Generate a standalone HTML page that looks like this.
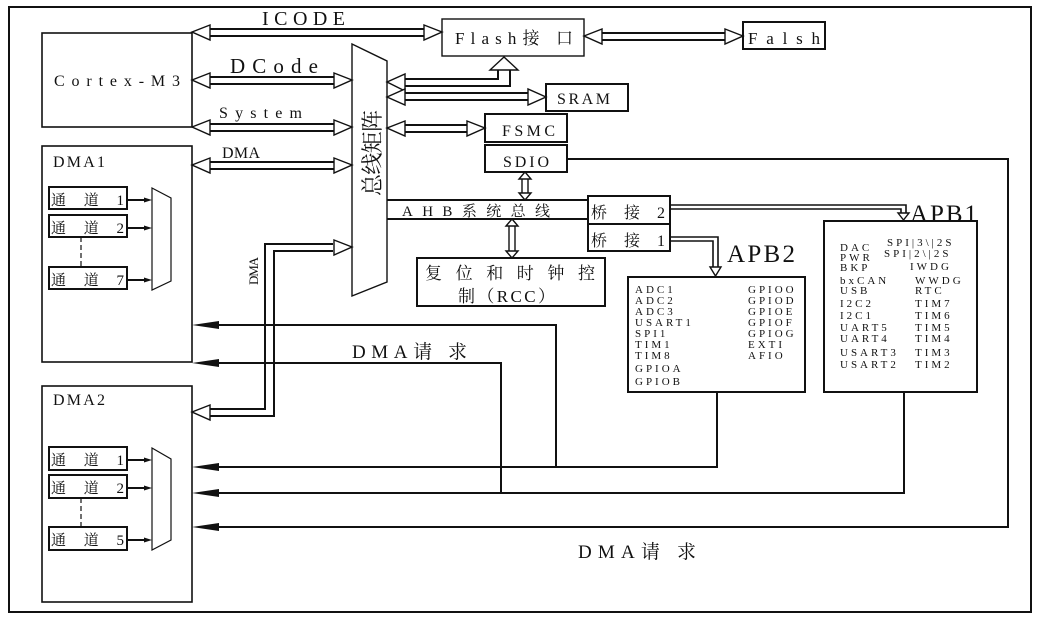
<!DOCTYPE html>
<html><head><meta charset="utf-8"><style>
html,body{margin:0;padding:0;background:#fff;}
svg{display:block;}
text{font-family:"Liberation Serif","Noto Serif CJK SC",serif;fill:#111;}
.s{font-size:11px;}
</style></head><body>
<svg width="1041" height="621" viewBox="0 0 1041 621" xmlns="http://www.w3.org/2000/svg">
<g fill="none" stroke="#111" stroke-width="2">
<!-- outer frame -->
<rect x="9" y="7" width="1022" height="605" stroke-width="2"/>
<!-- Cortex -->
<rect x="42" y="33" width="150" height="94" stroke-width="1.6"/>
<rect x="42" y="146" width="150" height="216" stroke-width="1.6"/>
<rect x="42" y="386" width="150" height="216" stroke-width="1.6"/>
<!-- DMA1 channels -->
<rect x="49" y="187" width="78" height="22"/>
<rect x="49" y="215" width="78" height="22"/>
<rect x="49" y="267" width="78" height="22"/>
<line x1="81" y1="237" x2="81" y2="267" stroke-width="1.2" stroke-dasharray="5,3"/>
<polygon points="152,188 171,198 171,281 152,290" stroke-width="1.2"/>
<line x1="127" y1="200" x2="146" y2="200"/><line x1="127" y1="228" x2="146" y2="228"/><line x1="127" y1="280" x2="146" y2="280"/>
<!-- DMA2 channels -->
<rect x="49" y="447" width="78" height="23"/>
<rect x="49" y="475" width="78" height="23"/>
<rect x="49" y="527" width="78" height="23"/>
<line x1="81" y1="498" x2="81" y2="527" stroke-width="1.2" stroke-dasharray="5,3"/>
<polygon points="152,448 171,459 171,540 152,550" stroke-width="1.2"/>
<line x1="127" y1="460" x2="146" y2="460"/><line x1="127" y1="488" x2="146" y2="488"/><line x1="127" y1="540" x2="146" y2="540"/>
<!-- bus matrix -->
<polygon points="352,44 387,61 387,282 352,296" stroke-width="1.4"/>
<!-- AHB -->
<line x1="387" y1="200" x2="588" y2="200"/>
<line x1="387" y1="219" x2="588" y2="219"/>
<!-- boxes -->
<rect x="442" y="19" width="142" height="37" stroke-width="1.4"/>
<rect x="743" y="22" width="82" height="27"/>
<rect x="546" y="84" width="82" height="27"/>
<rect x="485" y="114" width="82" height="28"/>
<rect x="485" y="145" width="82" height="27"/>
<rect x="588" y="196" width="82" height="28"/>
<rect x="588" y="224" width="82" height="27"/>
<rect x="417" y="258" width="188" height="48"/>
<rect x="628" y="277" width="177" height="115"/>
<rect x="824" y="221" width="153" height="171"/>
<!-- double-line connectors -->
<line x1="209" y1="29" x2="426" y2="29"/><line x1="209" y1="36" x2="426" y2="36"/>
<line x1="601" y1="33" x2="726" y2="33"/><line x1="601" y1="40" x2="726" y2="40"/>
<line x1="209" y1="77" x2="335" y2="77"/><line x1="209" y1="84" x2="335" y2="84"/>
<line x1="209" y1="124" x2="335" y2="124"/><line x1="209" y1="131" x2="335" y2="131"/>
<line x1="209" y1="162" x2="335" y2="162"/><line x1="209" y1="169" x2="335" y2="169"/>
<polyline points="404,79 498,79 498,70"/><polyline points="404,86 510,86 510,70"/>
<line x1="404" y1="93" x2="529" y2="93"/><line x1="404" y1="100" x2="529" y2="100"/>
<line x1="404" y1="125" x2="468" y2="125"/><line x1="404" y1="132" x2="468" y2="132"/>
<!-- DMA double vertical -->
<polyline points="333,244 265,244 265,409 209,409"/>
<polyline points="333,251 274,251 274,416 209,416"/>
<!-- SDIO/RCC small vertical doubles -->
<line x1="522" y1="178" x2="522" y2="194" stroke-width="1.4"/><line x1="528" y1="178" x2="528" y2="194" stroke-width="1.4"/>
<line x1="509" y1="225" x2="509" y2="252" stroke-width="1.4"/><line x1="515" y1="225" x2="515" y2="252" stroke-width="1.4"/>
<!-- bridge connectors -->
<polyline points="670,205 906,205 906,214" stroke-width="1.6"/><polyline points="670,209 901,209 901,214" stroke-width="1.6"/>
<polyline points="670,237 718,237 718,268" stroke-width="1.6"/><polyline points="670,241 713,241 713,268" stroke-width="1.6"/>
<!-- DMA request lines -->
<polyline points="567,159 1008,159 1008,527 214,527"/>
<polyline points="717,392 717,467 214,467"/>
<polyline points="904,392 904,493 214,493"/>
<polyline points="214,325 556,325 556,467" />
<polyline points="214,363 501,363 501,493" />
</g>
<!-- hollow arrowheads -->
<g fill="#fff" stroke="#111" stroke-width="1.4">
<polygon points="192,32 210,25 210,40"/><polygon points="442,32 424,25 424,40"/>
<polygon points="584,36 602,29 602,44"/><polygon points="743,36 725,29 725,44"/>
<polygon points="192,80 210,73 210,88"/><polygon points="352,80 334,73 334,88"/>
<polygon points="192,127 210,120 210,135"/><polygon points="352,127 334,120 334,135"/>
<polygon points="192,165 210,158 210,173"/><polygon points="352,165 334,158 334,173"/>
<polygon points="387,82 405,74 405,91"/><polygon points="504,57 490,70 518,70"/>
<polygon points="387,97 405,89 405,105"/><polygon points="546,97 528,89 528,105"/>
<polygon points="387,128 405,121 405,136"/><polygon points="485,128 467,121 467,136"/>
<polygon points="352,247 334,240 334,255"/><polygon points="192,412 210,405 210,420"/>
<polygon points="525,172 519,179 531,179"/><polygon points="525,200 519,193 531,193"/>
<polygon points="512,219 506,226 518,226"/><polygon points="512,258 506,251 518,251"/>
<polygon points="903.5,220 898,213 909,213"/><polygon points="715.5,276 710,267 721,267"/>
</g>
<!-- filled arrowheads -->
<g fill="#111">
<polygon points="192,325 219,321 219,329"/><polygon points="192,363 219,359 219,367"/>
<polygon points="192,467 219,463 219,471"/><polygon points="192,493 219,489 219,497"/><polygon points="192,527 219,523 219,531"/>
<polygon points="152,200 144,197.5 144,202.5"/><polygon points="152,228 144,225.5 144,230.5"/><polygon points="152,280 144,277.5 144,282.5"/>
<polygon points="152,460 144,457.5 144,462.5"/><polygon points="152,488 144,485.5 144,490.5"/><polygon points="152,540 144,537.5 144,542.5"/>
</g>
<!-- labels -->
<text x="262" y="25" font-size="20" textLength="83" lengthAdjust="spacing">ICODE</text>
<text x="455" y="44" font-size="17" textLength="118" lengthAdjust="spacing">Flash接 口</text>
<text x="748" y="44" font-size="17" textLength="72" lengthAdjust="spacing">Falsh</text>
<text x="230" y="73" font-size="21" textLength="88" lengthAdjust="spacing">DCode</text>
<text x="54" y="86" font-size="16" textLength="126" lengthAdjust="spacing">Cortex-M3</text>
<text x="557" y="104" font-size="16" textLength="53" lengthAdjust="spacing">SRAM</text>
<text x="219" y="118" font-size="16" textLength="83" lengthAdjust="spacing">System</text>
<text x="502" y="136" font-size="16" textLength="53" lengthAdjust="spacing">FSMC</text>
<text x="503" y="167" font-size="16" textLength="46" lengthAdjust="spacing">SDIO</text>
<text x="222" y="158" font-size="16" textLength="38" lengthAdjust="spacing">DMA</text>
<text x="53" y="167" font-size="16" textLength="52" lengthAdjust="spacing">DMA1</text>
<text x="53" y="405" font-size="16" textLength="52" lengthAdjust="spacing">DMA2</text>
<text x="51" y="205" font-size="15" textLength="73" lengthAdjust="spacing">通 道 1</text>
<text x="51" y="233" font-size="15" textLength="73" lengthAdjust="spacing">通 道 2</text>
<text x="51" y="285" font-size="15" textLength="73" lengthAdjust="spacing">通 道 7</text>
<text x="51" y="465" font-size="15" textLength="73" lengthAdjust="spacing">通 道 1</text>
<text x="51" y="493" font-size="15" textLength="73" lengthAdjust="spacing">通 道 2</text>
<text x="51" y="545" font-size="15" textLength="73" lengthAdjust="spacing">通 道 5</text>
<text transform="translate(380,196) rotate(-90)" font-size="22" textLength="86" lengthAdjust="spacing">总线矩阵</text>
<text transform="translate(258,285) rotate(-90)" font-size="13" textLength="28" lengthAdjust="spacing">DMA</text>
<text x="402" y="216" font-size="15" textLength="148" lengthAdjust="spacing">AHB系统总线</text>
<text x="591" y="218" font-size="16" textLength="74" lengthAdjust="spacing">桥 接 2</text>
<text x="591" y="246" font-size="16" textLength="74" lengthAdjust="spacing">桥 接 1</text>
<text x="910" y="222" font-size="25" textLength="67" lengthAdjust="spacing">APB1</text>
<text x="727" y="262" font-size="25" textLength="68" lengthAdjust="spacing">APB2</text>
<text x="425" y="279" font-size="17" textLength="170" lengthAdjust="spacing">复 位 和 时 钟 控</text>
<text x="458" y="302" font-size="17" textLength="97" lengthAdjust="spacing">制（RCC）</text>
<text x="352" y="358" font-size="19" textLength="115" lengthAdjust="spacing">DMA请 求</text>
<text x="578" y="558" font-size="19" textLength="118" lengthAdjust="spacing">DMA请 求</text>
<!-- APB2 list -->
<g class="s" letter-spacing="3">
<text x="635" y="293">ADC1</text><text x="635" y="304">ADC2</text><text x="635" y="315">ADC3</text>
<text x="635" y="326">USART1</text><text x="635" y="337">SPI1</text><text x="635" y="348">TIM1</text>
<text x="635" y="359">TIM8</text><text x="635" y="372">GPIOA</text><text x="635" y="385">GPIOB</text>
<text x="748" y="293">GPIOO</text><text x="748" y="304">GPIOD</text><text x="748" y="315">GPIOE</text>
<text x="748" y="326">GPIOF</text><text x="748" y="337">GPIOG</text><text x="748" y="348">EXTI</text><text x="748" y="359">AFIO</text>
<!-- APB1 list -->
<text x="887" y="246">SPI|3\|2S</text><text x="884" y="257">SPI|2\|2S</text>
<text x="840" y="251">DAC</text><text x="840" y="261">PWR</text><text x="840" y="271">BKP</text>
<text x="910" y="270">IWDG</text>
<text x="840" y="284">bxCAN</text><text x="915" y="284">WWDG</text>
<text x="840" y="294">USB</text><text x="915" y="294">RTC</text>
<text x="840" y="307">I2C2</text><text x="915" y="307">TIM7</text>
<text x="840" y="319">I2C1</text><text x="915" y="319">TIM6</text>
<text x="840" y="331">UART5</text><text x="915" y="331">TIM5</text>
<text x="840" y="342">UART4</text><text x="915" y="342">TIM4</text>
<text x="840" y="356">USART3</text><text x="915" y="356">TIM3</text>
<text x="840" y="368">USART2</text><text x="915" y="368">TIM2</text>
</g>
</svg>
</body></html>
